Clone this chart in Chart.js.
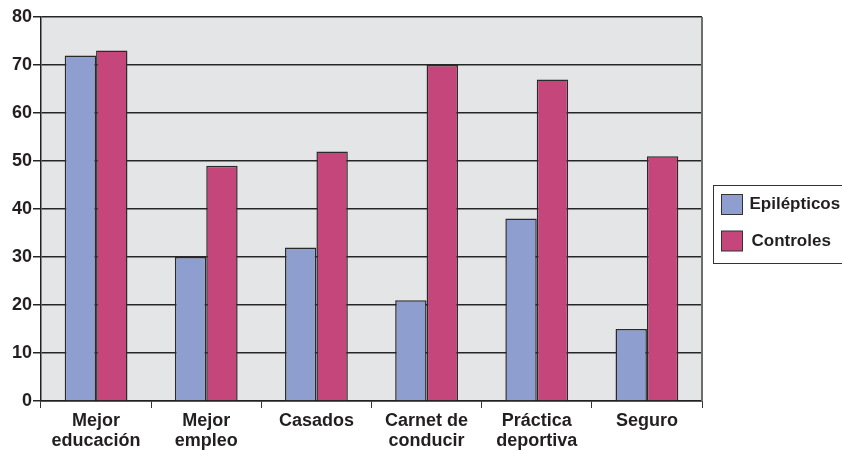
<!DOCTYPE html>
<html>
<head>
<meta charset="utf-8">
<script src="https://cdn.jsdelivr.net/npm/chart.js@4/dist/chart.umd.min.js"></script>
<style>
  html, body { margin: 0; padding: 0; background: #ffffff; }
  #wrap { width: 842px; height: 451px; position: relative; }
</style>
</head>
<body>
<div id="wrap"><canvas id="c" width="842" height="451"></canvas></div>
<script>
// Categories (multi-line labels) and the two series
const categories = [
  ['Mejor', 'educación'],
  ['Mejor', 'empleo'],
  'Casados',
  ['Carnet de', 'conducir'],
  ['Práctica', 'deportiva'],
  'Seguro'
];
const epilepticos = [72, 30, 32, 21, 38, 15];
const controles = [73, 49, 52, 70, 67, 51];
const seriesNames = ['Epilépticos', 'Controles'];
const yTicks = [0, 10, 20, 30, 40, 50, 60, 70, 80];

const FONT = '"Liberation Sans", Arial, Helvetica, sans-serif';
const INK = '#231f20';

// Grey plot background plus right frame line
const plotFrame = {
  id: 'plotFrame',
  beforeDraw(chart) {
    const { ctx, chartArea: a } = chart;
    ctx.save();
    ctx.fillStyle = '#e4e5e7';
    ctx.fillRect(a.left, a.top, a.right - a.left, a.bottom - a.top);
    ctx.restore();
  },
  afterDraw(chart) {
    const { ctx, chartArea: a } = chart;
    ctx.save();
    ctx.strokeStyle = '#6e6e6e';
    ctx.lineWidth = 2;
    ctx.beginPath();
    ctx.moveTo(a.right, a.top);
    ctx.lineTo(a.right, a.bottom);
    ctx.stroke();
    ctx.restore();
  }
};

// Boxed legend to the right of the plot, built from the datasets
const boxLegend = {
  id: 'boxLegend',
  afterDraw(chart) {
    const { ctx, chartArea: a } = chart;
    const x0 = a.right + 11.5, y0 = 185.5, h = 78;
    ctx.save();
    ctx.strokeStyle = '#333333';
    ctx.lineWidth = 1;
    ctx.strokeRect(x0, y0, 200, h);
    ctx.font = 'bold 17px ' + FONT;
    ctx.textBaseline = 'middle';
    ctx.textAlign = 'left';
    chart.data.datasets.forEach((ds, i) => {
      const sy = 194.5 + i * 36.5;
      ctx.fillStyle = ds.backgroundColor;
      ctx.fillRect(x0 + 8, sy, 21, 20);
      ctx.strokeStyle = '#333333';
      ctx.strokeRect(x0 + 8, sy, 21, 20);
      ctx.fillStyle = INK;
      ctx.fillText(ds.label, x0 + 36 + (i === 1 ? 2 : 0), sy + 10);
    });
    ctx.restore();
  }
};

new Chart(document.getElementById('c'), {
  type: 'bar',
  data: {
    labels: categories,
    datasets: [
      {
        label: seriesNames[0],
        data: epilepticos,
        backgroundColor: '#8e9ecf',
        borderColor: '#2a2a2a',
        borderWidth: 1.5
      },
      {
        label: seriesNames[1],
        data: controles,
        backgroundColor: '#c4467b',
        borderColor: '#2a2a2a',
        borderWidth: 1.5
      }
    ]
  },
  options: {
    responsive: false,
    animation: false,
    events: [],
    layout: { padding: { top: 17, right: 140, left: 0, bottom: 0 } },
    datasets: {
      bar: { categoryPercentage: 0.57, barPercentage: 1.0 }
    },
    plugins: {
      legend: { display: false },
      tooltip: { enabled: false }
    },
    scales: {
      x: {
        offset: true,
        grid: {
          offset: true,
          drawOnChartArea: false,
          drawTicks: true,
          tickLength: 7,
          color: '#333333',
          lineWidth: 1
        },
        border: { display: true, color: '#222222', width: 1.5 },
        ticks: {
          color: INK,
          font: { family: FONT, size: 18, weight: 'bold', lineHeight: 1.12 },
          padding: 3,
          maxRotation: 0,
          autoSkip: false
        },
        afterFit(scale) { scale.height = 50; }
      },
      y: {
        min: 0,
        max: 80,
        afterBuildTicks(scale) { scale.ticks = yTicks.map(v => ({ value: v })); },
        grid: {
          color: '#262626',
          lineWidth: 1.5,
          tickLength: 8,
          drawTicks: true
        },
        border: { display: true, color: '#222222', width: 1.5 },
        ticks: {
          color: INK,
          font: { family: FONT, size: 18, weight: 'bold' },
          padding: 1
        },
        afterFit(scale) { scale.width = 41; }
      }
    }
  },
  plugins: [plotFrame, boxLegend]
});
</script>
</body>
</html>
